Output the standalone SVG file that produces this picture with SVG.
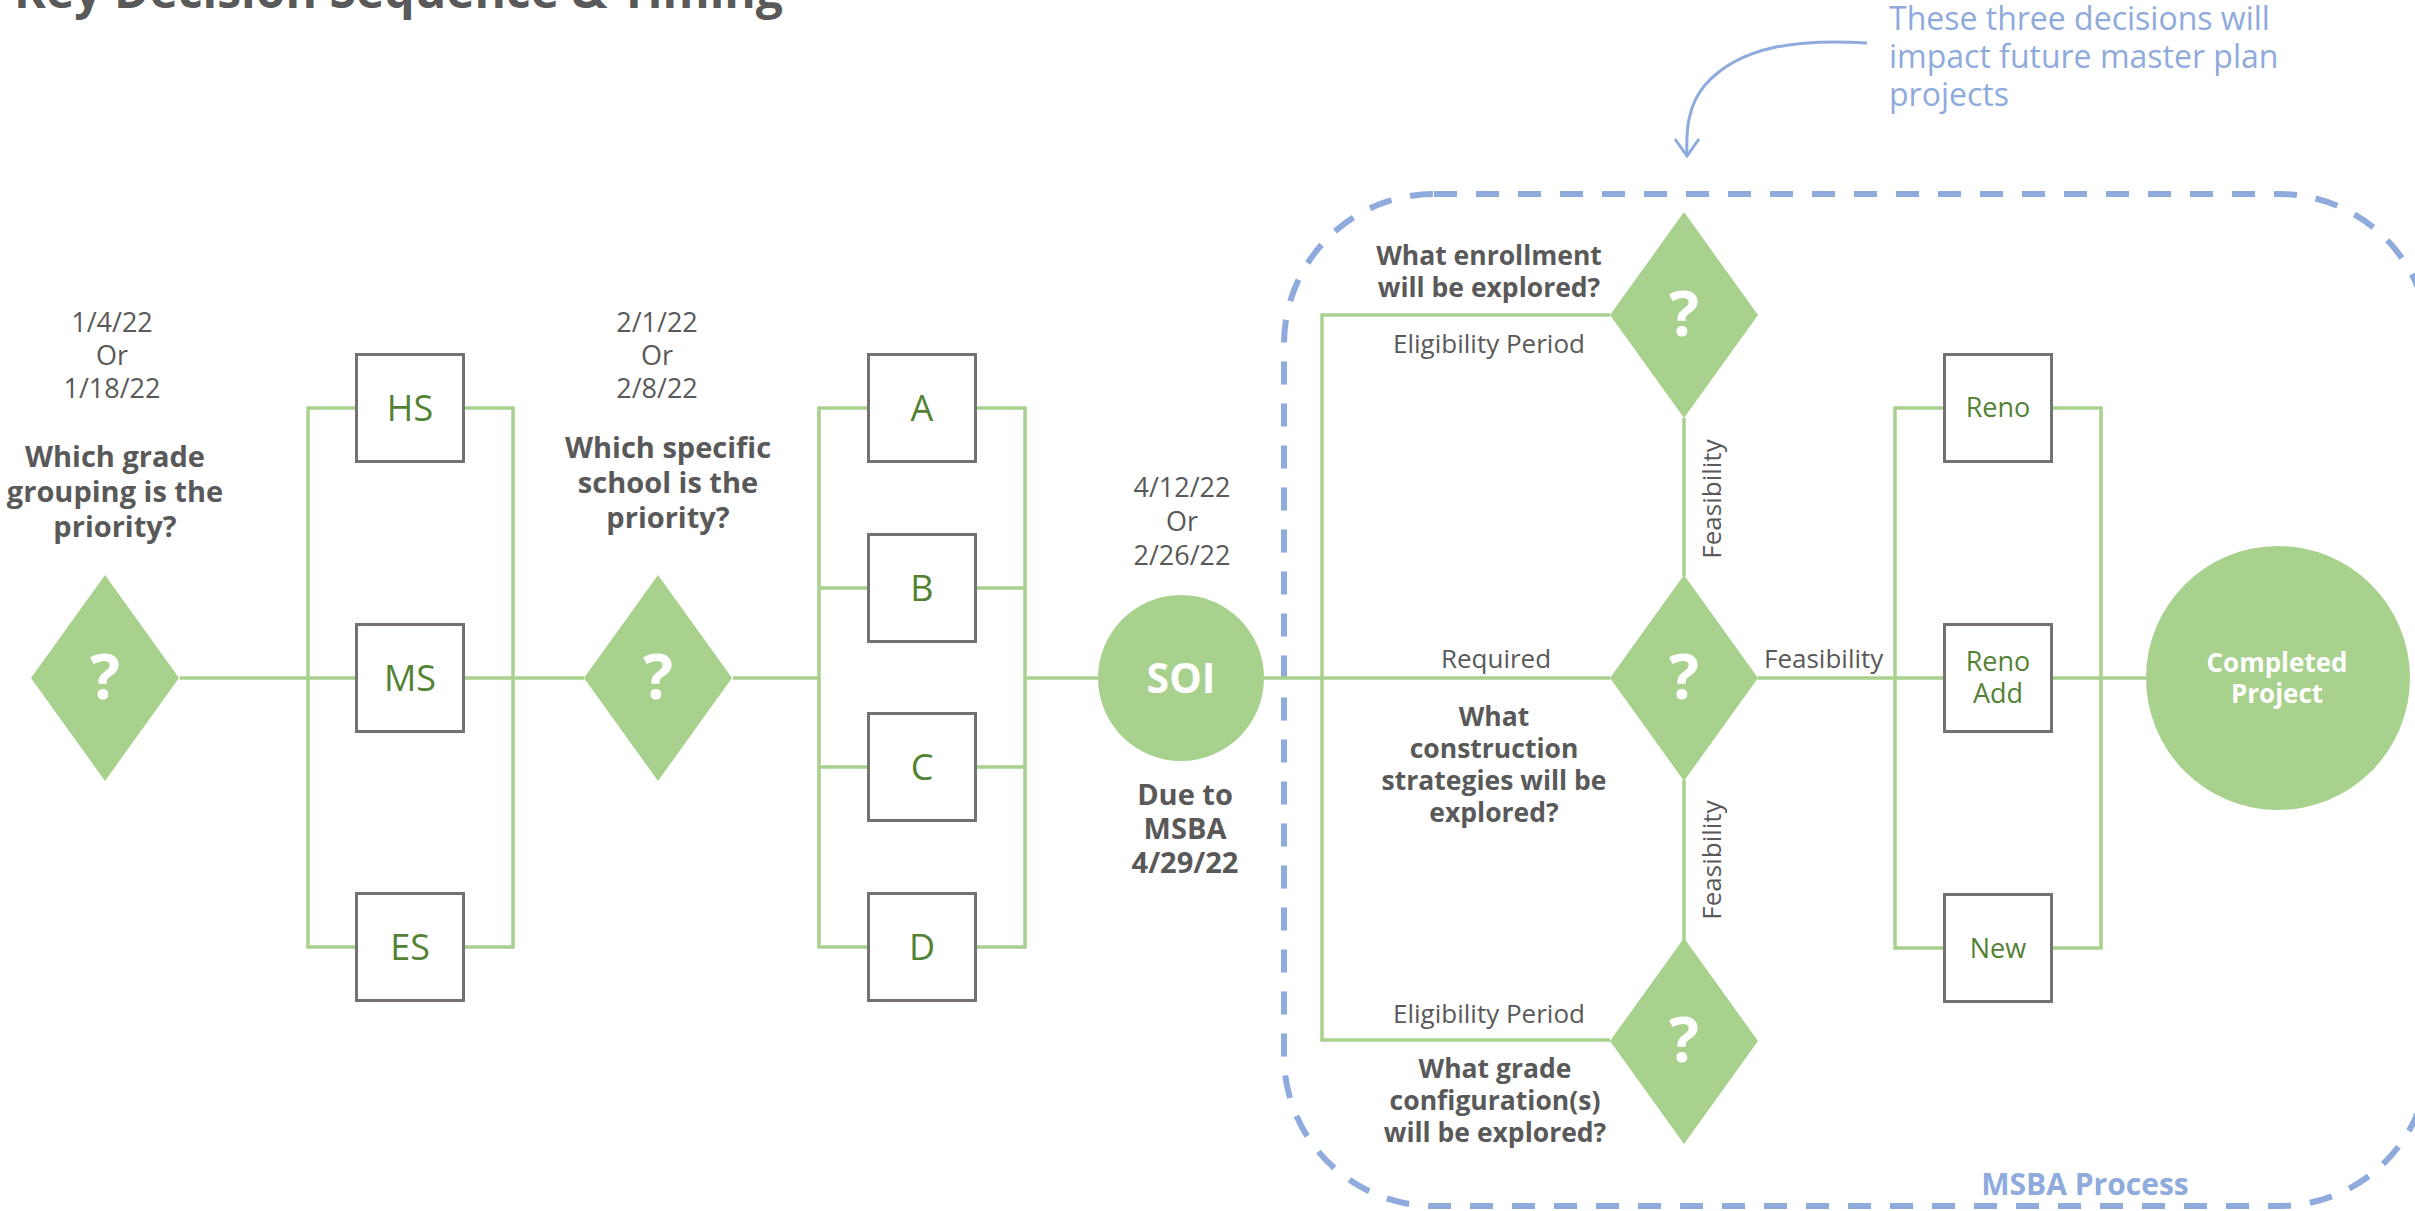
<svg xmlns="http://www.w3.org/2000/svg" width="2415" height="1211" viewBox="0 0 2415 1211">
  <style>
    text { font-family: "Open Sans", "Liberation Sans", sans-serif; }
    .ln { stroke: #A9D18E; stroke-width: 3.5; fill: none; }
    .box { fill: #ffffff; stroke: #767171; stroke-width: 3; }
    .dia { fill: #A9D18E; }
    .q { font-size: 63px; font-weight: bold; fill: #ffffff; text-anchor: middle; }
    .dt { font-size: 27px; fill: #595959; text-anchor: middle; }
    .hq { font-size: 29px; font-weight: bold; fill: #595959; text-anchor: middle; }
    .mq { font-size: 26.5px; font-weight: bold; fill: #595959; text-anchor: middle; }
    .lb { font-size: 26px; fill: #595959; }
    .bx { font-size: 36px; fill: #548235; text-anchor: middle; }
    .bs { font-size: 27px; fill: #548235; text-anchor: middle; }
    .wt { font-weight: bold; fill: #ffffff; text-anchor: middle; }
    .blue { fill: #8FAADC; }
  </style>
  <defs>
    <rect id="sq" x="-53.5" y="-53.5" width="107" height="107" class="box"/>
    <polygon id="dm" points="0,-103 74,0 0,103 -74,0" class="dia"/>
  </defs>

  <rect width="2415" height="1211" fill="#ffffff"/>

  <!-- title -->
  <text x="14" y="8" font-size="48" font-weight="bold" fill="#595959">Key Decision Sequence &amp; Timing</text>

  <!-- MSBA process boundary -->
  <g id="msba-process">
    <rect x="1284" y="194" width="1145" height="1012" rx="150" ry="150" fill="none" stroke="#8FAADC" stroke-width="6" stroke-dasharray="23 19"/>
    <text x="2085" y="1195" font-size="30" font-weight="bold" class="blue" text-anchor="middle">MSBA Process</text>
  </g>

  <!-- note with curved arrow -->
  <g id="note">
    <text x="1889" y="30" font-size="32" class="blue">These three decisions will</text>
    <text x="1889" y="68" font-size="32" class="blue">impact future master plan</text>
    <text x="1889" y="106" font-size="32" class="blue">projects</text>
    <path d="M1867,43 C1800,39 1740,45 1705,85 C1688,105 1686,130 1687,154" fill="none" stroke="#8FAADC" stroke-width="3"/>
    <polyline points="1675,139 1687,156 1699,139" fill="none" stroke="#8FAADC" stroke-width="3"/>
  </g>

  <!-- connectors -->
  <g id="connectors">
    <path class="ln" d="M180,678 H355 M465,678 H584 M733,678 H819 M1025,678 H1098 M1264,678 H1610 M1758,678 H1943 M2053,678 H2146"/>
    <path class="ln" d="M355,408 H308 V947 H355 M465,408 H513 V947 H465"/>
    <path class="ln" d="M867,408 H819 V947 H867 M819,588 H867 M819,767 H867 M977,408 H1025 V947 H977 M977,588 H1025 M977,767 H1025"/>
    <path class="ln" d="M1610,315 H1322 V1040 H1610 M1684,418 V576 M1684,780 V941"/>
    <path class="ln" d="M1943,408 H1895 V948 H1943 M2053,408 H2101 V948 H2053"/>
    <text class="lb" x="1496" y="668" text-anchor="middle">Required</text>
    <text class="lb" x="1764" y="668">Feasibility</text>
    <text class="lb" x="1489" y="353" text-anchor="middle">Eligibility Period</text>
    <text class="lb" x="1489" y="1023" text-anchor="middle">Eligibility Period</text>
    <text class="lb" transform="translate(1721,499) rotate(-90)" text-anchor="middle">Feasibility</text>
    <text class="lb" transform="translate(1721,860) rotate(-90)" text-anchor="middle">Feasibility</text>
  </g>

  <!-- decision 1: grade grouping -->
  <g id="decision-grade">
    <use href="#dm" x="105" y="678"/>
    <text class="q" x="105" y="699">?</text>
    <text class="dt" x="112" y="332">1/4/22</text>
    <text class="dt" x="112" y="365">Or</text>
    <text class="dt" x="112" y="398">1/18/22</text>
    <text class="hq" x="115" y="467">Which grade</text>
    <text class="hq" x="115" y="502">grouping is the</text>
    <text class="hq" x="115" y="537">priority?</text>
  </g>

  <g id="opt-hs"><use href="#sq" x="410" y="408"/><text class="bx" x="410" y="421">HS</text></g>
  <g id="opt-ms"><use href="#sq" x="410" y="678"/><text class="bx" x="410" y="691">MS</text></g>
  <g id="opt-es"><use href="#sq" x="410" y="947"/><text class="bx" x="410" y="960">ES</text></g>

  <!-- decision 2: specific school -->
  <g id="decision-school">
    <use href="#dm" x="658" y="678"/>
    <text class="q" x="658" y="699">?</text>
    <text class="dt" x="657" y="332">2/1/22</text>
    <text class="dt" x="657" y="365">Or</text>
    <text class="dt" x="657" y="398">2/8/22</text>
    <text class="hq" x="668" y="458">Which specific</text>
    <text class="hq" x="668" y="493">school is the</text>
    <text class="hq" x="668" y="528">priority?</text>
  </g>

  <g id="opt-a"><use href="#sq" x="922" y="408"/><text class="bx" x="922" y="421">A</text></g>
  <g id="opt-b"><use href="#sq" x="922" y="588"/><text class="bx" x="922" y="601">B</text></g>
  <g id="opt-c"><use href="#sq" x="922" y="767"/><text class="bx" x="922" y="780">C</text></g>
  <g id="opt-d"><use href="#sq" x="922" y="947"/><text class="bx" x="922" y="960">D</text></g>

  <!-- statement of interest -->
  <g id="soi">
    <circle cx="1181" cy="678" r="83" fill="#A9D18E"/>
    <text class="wt" x="1181" y="693" font-size="41">SOI</text>
    <text class="dt" x="1182" y="497">4/12/22</text>
    <text class="dt" x="1182" y="531">Or</text>
    <text class="dt" x="1182" y="565">2/26/22</text>
    <text class="hq" x="1185" y="805" font-size="27">Due to</text>
    <text class="hq" x="1185" y="839" font-size="27">MSBA</text>
    <text class="hq" x="1185" y="873" font-size="27">4/29/22</text>
  </g>

  <!-- MSBA decisions -->
  <g id="decision-enrollment">
    <use href="#dm" x="1684" y="315"/>
    <text class="q" x="1684" y="336">?</text>
    <text class="mq" x="1489" y="265">What enrollment</text>
    <text class="mq" x="1489" y="297">will be explored?</text>
  </g>

  <g id="decision-construction">
    <use href="#dm" x="1684" y="678"/>
    <text class="q" x="1684" y="699">?</text>
    <text class="mq" x="1494" y="726">What</text>
    <text class="mq" x="1494" y="758">construction</text>
    <text class="mq" x="1494" y="790">strategies will be</text>
    <text class="mq" x="1494" y="822">explored?</text>
  </g>

  <g id="decision-configuration">
    <use href="#dm" x="1684" y="1041"/>
    <text class="q" x="1684" y="1062">?</text>
    <text class="mq" x="1495" y="1078">What grade</text>
    <text class="mq" x="1495" y="1110">configuration(s)</text>
    <text class="mq" x="1495" y="1142">will be explored?</text>
  </g>

  <g id="opt-reno"><use href="#sq" x="1998" y="408"/><text class="bs" x="1998" y="417">Reno</text></g>
  <g id="opt-reno-add"><use href="#sq" x="1998" y="678"/><text class="bs" x="1998" y="671">Reno</text><text class="bs" x="1998" y="703">Add</text></g>
  <g id="opt-new"><use href="#sq" x="1998" y="948"/><text class="bs" x="1998" y="958">New</text></g>

  <g id="completed-project">
    <circle cx="2278" cy="678" r="132" fill="#A9D18E"/>
    <text class="wt" x="2277" y="672" font-size="26">Completed</text>
    <text class="wt" x="2277" y="703" font-size="26">Project</text>
  </g>
</svg>
